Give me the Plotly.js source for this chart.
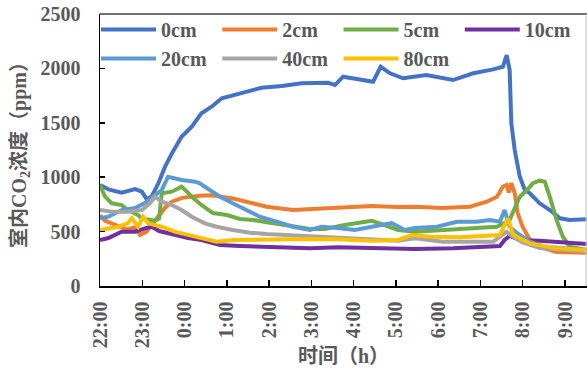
<!DOCTYPE html>
<html>
<head>
<meta charset="utf-8">
<script src="https://cdn.plot.ly/plotly-3.0.1.min.js"></script>
<style>html,body{margin:0;padding:0;background:#fff;}#chart{width:587px;height:372px;}</style>
</head>
<body>
<div id="chart"></div>
<script>
// Hours after 22:00
const tickLabels = ['22:00','23:00','0:00','1:00','2:00','3:00','4:00','5:00','6:00','7:00','8:00','9:00'];
const seriesNames = ['0cm','2cm','5cm','10cm','20cm','40cm','80cm'];
const seriesColors = ['#4472C4','#ED7D31','#70AD47','#7030A0','#5B9BD5','#A5A5A5','#FFC000'];

const t0 = [0, 0.20, 0.51, 0.83, 0.99, 1.10, 1.22, 1.38, 1.54, 1.70, 1.93, 2.17, 2.40, 2.64, 2.88, 3.19, 3.51, 3.82, 4.30, 4.77, 5.40, 5.56, 5.75, 6.07, 6.46, 6.64, 6.86, 7.17, 7.72, 8.35, 8.83, 9.30, 9.53, 9.62, 9.69, 9.73, 9.81, 9.93, 10.05, 10.17, 10.40, 10.64, 10.88, 11.11, 11.51];
const v0 = [928, 888, 858, 891, 867, 800, 821, 944, 1097, 1219, 1372, 1464, 1587, 1648, 1725, 1755, 1786, 1822, 1838, 1863, 1868, 1847, 1924, 1900, 1878, 2015, 1955, 1909, 1939, 1893, 1955, 1991, 2015, 2123, 1985, 1495, 1250, 1004, 882, 852, 760, 698, 622, 607, 613];

const t2 = [0, 0.12, 0.31, 0.64, 0.83, 0.95, 1.10, 1.22, 1.36, 1.54, 1.70, 1.94, 2.36, 2.64, 3.14, 3.55, 3.94, 4.56, 4.97, 5.63, 6.43, 7.05, 7.45, 8.11, 8.75, 9.15, 9.39, 9.53, 9.62, 9.67, 9.73, 9.81, 9.88, 10.00, 10.17, 10.40, 10.80, 11.51];
const v2 = [650, 600, 570, 520, 540, 470, 500, 560, 640, 720, 775, 810, 830, 835, 805, 763, 729, 698, 708, 717, 735, 725, 729, 717, 729, 775, 821, 913, 928, 860, 946, 855, 670, 542, 423, 358, 312, 305];

const t5 = [0, 0.12, 0.28, 0.51, 0.66, 0.90, 0.99, 1.10, 1.30, 1.40, 1.46, 1.70, 1.93, 2.05, 2.17, 2.40, 2.67, 3.00, 3.31, 3.62, 4.09, 4.56, 4.97, 5.32, 5.79, 6.43, 6.74, 7.05, 7.45, 8.11, 8.91, 9.39, 9.62, 9.69, 9.93, 10.10, 10.24, 10.40, 10.52, 10.64, 10.80, 10.95, 11.11, 11.51];
const v5 = [928, 821, 760, 744, 698, 652, 620, 610, 600, 620, 852, 867, 913, 870, 821, 745, 670, 652, 616, 607, 579, 545, 524, 524, 561, 600, 561, 515, 499, 515, 533, 545, 591, 607, 821, 882, 946, 968, 959, 821, 607, 453, 361, 331];

const t10 = [0, 0.20, 0.51, 0.83, 1.06, 1.22, 1.40, 1.77, 2.08, 2.40, 2.84, 3.31, 3.95, 4.97, 5.63, 6.43, 7.45, 8.35, 9.46, 9.57, 9.69, 9.93, 10.40, 11.51];
const v10 = [423, 441, 499, 499, 530, 545, 505, 469, 441, 423, 377, 368, 356, 346, 356, 346, 340, 346, 368, 423, 460, 423, 416, 385];

const t20 = [0, 0.20, 0.51, 0.83, 1.06, 1.25, 1.46, 1.61, 1.93, 2.25, 2.36, 2.60, 2.84, 3.14, 3.47, 3.78, 4.18, 4.56, 4.97, 5.24, 5.63, 6.03, 6.43, 6.90, 7.21, 7.45, 7.97, 8.44, 8.91, 9.22, 9.46, 9.57, 9.69, 9.86, 10.17, 10.50, 11.51];
const v20 = [622, 637, 698, 717, 763, 821, 882, 1004, 974, 959, 944, 882, 821, 760, 698, 637, 591, 545, 515, 545, 533, 515, 545, 579, 515, 533, 545, 591, 591, 607, 591, 698, 545, 487, 407, 360, 330];

const t40 = [0, 0.28, 0.66, 0.99, 1.18, 1.30, 1.46, 1.70, 1.93, 2.17, 2.48, 2.76, 3.14, 3.55, 3.94, 4.41, 4.97, 5.63, 6.43, 7.05, 7.45, 8.11, 9.30, 9.62, 9.76, 10.00, 10.40, 11.51];
const v40 = [698, 683, 683, 698, 760, 821, 775, 744, 698, 637, 576, 545, 515, 490, 478, 469, 460, 447, 423, 416, 438, 407, 407, 499, 453, 400, 350, 320];

const t80 = [0, 0.20, 0.43, 0.66, 0.75, 0.90, 1.02, 1.14, 1.46, 1.77, 2.08, 2.40, 2.76, 3.14, 3.95, 4.97, 5.63, 6.43, 7.05, 7.38, 7.80, 8.51, 9.46, 9.62, 9.65, 9.76, 9.86, 10.17, 10.80, 11.51];
const v80 = [515, 533, 545, 576, 622, 545, 637, 576, 545, 499, 469, 447, 407, 423, 429, 432, 429, 416, 423, 469, 453, 447, 469, 607, 622, 484, 453, 392, 346, 331];

const xs = [t0, t2, t5, t10, t20, t40, t80];
const ys = [v0, v2, v5, v10, v20, v40, v80];

const FONT = 'Liberation Serif, Times New Roman, Noto Sans CJK SC, serif';
const GRAY = '#595959';

const traces = seriesNames.map((n, i) => ({
  type: 'scatter', mode: 'lines', name: n,
  x: xs[i], y: ys[i],
  line: {color: seriesColors[i], width: 4}
}));

const layout = {
  width: 587, height: 372,
  margin: {l: 100, r: 0, t: 14, b: 86},
  paper_bgcolor: '#fff', plot_bgcolor: '#fff',
  font: {family: FONT, size: 20, color: GRAY, weight: 'bold'},
  showlegend: true,
  legend: {
    orientation: 'h', x: 0.0, y: 1.015, xanchor: 'left', yanchor: 'top',
    entrywidth: 0.249, entrywidthmode: 'fraction', itemwidth: 55,
    bgcolor: 'rgba(0,0,0,0)', font: {family: FONT, size: 20, color: GRAY, weight: 'bold'},
    tracegroupgap: 0
  },
  xaxis: {
    range: [0, 11.52], showgrid: false, zeroline: false,
    showline: true, linecolor: '#000', linewidth: 1.5,
    ticks: 'inside', ticklen: 6, tickwidth: 1.5, tickcolor: '#000',
    tickvals: tickLabels.map((_, i) => i), ticktext: tickLabels,
    tickangle: -90, ticklabelstandoff: 6,
    tickfont: {family: FONT, size: 20, color: GRAY, weight: 'bold'},
    title: {text: '时间（h）', font: {family: FONT, size: 20, color: GRAY, weight: 'bold'}, standoff: 2}
  },
  yaxis: {
    range: [0, 2500], dtick: 500, showgrid: false, zeroline: false,
    showline: true, linecolor: '#000', linewidth: 1.5,
    ticks: 'inside', ticklen: 5, tickwidth: 1.5, tickcolor: '#000',
    ticklabelstandoff: 14,
    tickfont: {family: FONT, size: 20, color: GRAY, weight: 'bold'},
    title: {text: '室内CO<sub>2</sub>浓度（ppm）', font: {family: FONT, size: 20, color: GRAY, weight: 'bold'}, standoff: 8}
  },
  shapes: [
    {type: 'line', xref: 'paper', yref: 'paper', x0: 0, x1: 1, y0: 1, y1: 1, line: {color: '#404040', width: 1.5}},
    {type: 'line', xref: 'paper', yref: 'paper', x0: 0.998, x1: 0.998, y0: 0, y1: 1, line: {color: '#bfbfbf', width: 1}}
  ]
};

Plotly.newPlot('chart', traces, layout, {displayModeBar: false, staticPlot: true});
</script>
</body>
</html>
